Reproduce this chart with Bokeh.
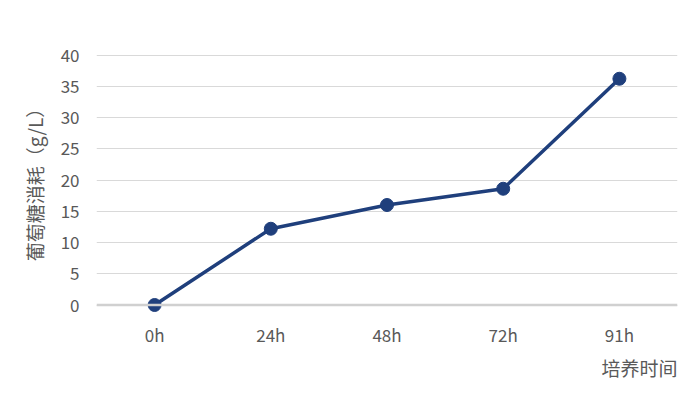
from bokeh.plotting import figure
from bokeh.models import Range1d, Span, Title, FixedTicker
from bokeh.embed import file_html
from bokeh.resources import INLINE

categories = ["0h", "24h", "48h", "72h", "91h"]
values = [0, 12.2, 16.0, 18.6, 36.2]
y_ticks = [0, 5, 10, 15, 20, 25, 30, 35, 40]

FONT = "Noto Sans CJK SC"
TXT = "#595959"
BLUE = "#1f3f7c"

p = figure(x_range=categories, y_range=Range1d(-2, 42),
           frame_width=581, frame_height=275,
           min_border_left=96, min_border_top=42, min_border_right=7, min_border_bottom=10,
           output_backend="svg", toolbar_location=None)
p.outline_line_color = None
p.background_fill_color = "white"
p.border_fill_color = "white"

p.yaxis.ticker = FixedTicker(ticks=y_ticks)
p.ygrid.grid_line_color = "#d9d9d9"
p.ygrid.grid_line_width = 1
p.xgrid.grid_line_color = None

for ax in (p.xaxis, p.yaxis):
    ax.axis_line_color = None
    ax.major_tick_line_color = None
    ax.minor_tick_line_color = None
    ax.major_tick_out = 0
    ax.major_tick_in = 0
    ax.minor_tick_out = 0
    ax.minor_tick_in = 0
    ax.major_label_text_font = FONT
    ax.major_label_text_font_size = "17px"
    ax.major_label_text_color = TXT

p.yaxis.major_label_standoff = 17
p.xaxis.major_label_standoff = 4

p.yaxis.axis_label = "葡萄糖消耗（g/L）"
p.yaxis.axis_label_text_font = FONT
p.yaxis.axis_label_text_font_size = "19px"
p.yaxis.axis_label_text_font_style = "normal"
p.yaxis.axis_label_text_color = TXT
p.yaxis.axis_label_standoff = 10

p.add_layout(Span(location=0, dimension="width", line_color="#d0d0d0", line_width=2.5))

p.line(categories, values, line_color=BLUE, line_width=3.5)
p.scatter(categories, values, size=13, fill_color=BLUE, line_color=BLUE)

xt = Title(text="培养时间", align="right", text_font=FONT, text_font_size="19px",
           text_font_style="normal", text_color=TXT, standoff=4)
p.add_layout(xt, "below")

open("out.html", "w").write(file_html(p, INLINE))
